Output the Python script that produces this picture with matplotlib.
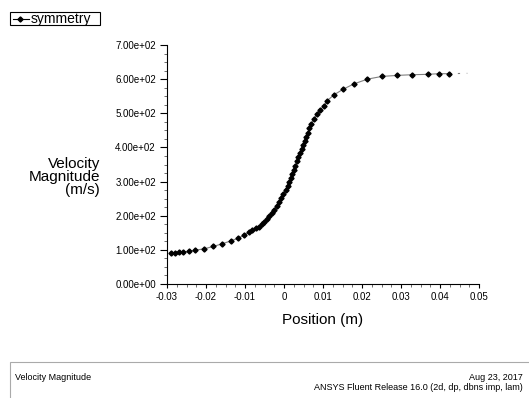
import matplotlib
matplotlib.use("Agg")
import matplotlib.pyplot as plt
from matplotlib.ticker import MultipleLocator, FormatStrFormatter
from matplotlib.patches import Rectangle

position = [-0.0291, -0.0279, -0.0269, -0.0258, -0.0244, -0.0227, -0.0205, -0.0181,
            -0.0158, -0.0137, -0.0118, -0.0103, -0.0090, -0.0081, -0.0073, -0.0064,
            -0.0057, -0.0051, -0.0044, -0.0038, -0.0032, -0.0026, -0.0019, -0.0013,
            -0.0007, -0.0002, 0.0004, 0.0009, 0.0013, 0.0017, 0.0021, 0.0025,
            0.0029, 0.0033, 0.0037, 0.0041, 0.0045, 0.0049, 0.0053, 0.0057,
            0.0061, 0.0065, 0.0070, 0.0077, 0.0084, 0.00923, 0.01026, 0.0111, 0.0128,
            0.0151, 0.0179, 0.0214, 0.0251, 0.0291, 0.0329, 0.0368, 0.0397, 0.0423]
velocity = [92, 92, 93, 94, 96, 99, 103, 110,
            118, 126, 134, 143, 151, 158, 163, 168,
            175, 182, 190, 198, 208, 217, 229, 241,
            251, 264, 276, 288, 298, 310, 322, 334,
            346, 359, 371, 383, 395, 407, 420, 432,
            443, 456, 469, 483, 498, 510, 521, 537, 554,
            570, 586, 600, 608, 611, 613, 614, 616, 616]
tail_position = [0.0423, 0.0470]
tail_velocity = [616, 617]

x_ticks = [-0.03, -0.02, -0.01, 0, 0.01, 0.02, 0.03, 0.04, 0.05]
x_labels = ["-0.03", "-0.02", "-0.01", "0", "0.01", "0.02", "0.03", "0.04", "0.05"]

plt.rcParams['font.family'] = ['Liberation Sans', 'DejaVu Sans']

fig = plt.figure(figsize=(5.29, 3.98), dpi=100)
ax = fig.add_axes([167/529, 1-284/398, (479-167)/529, (284-45)/398])

ax.plot(position, velocity, color='#808080', lw=0.8, marker='D', markersize=2.6,
        markerfacecolor='black', markeredgecolor='black', zorder=3)
ax.plot(tail_position, tail_velocity, color='#808080', lw=0.8, ls=(0, (2, 6)))

ax.set_xlim(-0.03, 0.05)
ax.set_ylim(0, 700)
ax.set_xticks(x_ticks)
ax.set_xticklabels(x_labels)
ax.xaxis.set_minor_locator(MultipleLocator(0.0025))
ax.yaxis.set_major_locator(MultipleLocator(100))
ax.yaxis.set_minor_locator(MultipleLocator(25))
ax.yaxis.set_major_formatter(FormatStrFormatter('%.2e'))
ax.tick_params(axis='both', which='major', labelsize=7, length=5, width=0.8, color='black', pad=3)
ax.tick_params(axis='x', which='major', length=3)
ax.tick_params(axis='both', which='minor', length=2.5, width=0.6, color='#555555')
for s in ['top', 'right']:
    ax.spines[s].set_visible(False)
for s in ['left', 'bottom']:
    ax.spines[s].set_linewidth(0.8)

ax.set_xlabel("Position (m)", fontsize=11, labelpad=8)
fig.text(100/529, 1-177/398, "Velocity\nMagnitude\n(m/s)", fontsize=11,
         ha='right', va='center', multialignment='right', linespacing=0.95)

# legend box
fig.add_artist(Rectangle((10/529, 1-25/398), 90/529, 13/398, transform=fig.transFigure,
                         fill=False, edgecolor='black', lw=0.8))
fig.add_artist(plt.Line2D([13/529, 29/529], [1-18.5/398, 1-18.5/398], transform=fig.transFigure,
                          color='black', lw=0.8))
fig.add_artist(plt.Line2D([20/529], [1-18.5/398], transform=fig.transFigure,
                          color='black', marker='D', markersize=2.6, lw=0))
fig.text(31/529, 1-19/398, "symmetry", fontsize=10, ha='left', va='center')

# footer box
fig.add_artist(Rectangle((10/529, -0.01), 530/529, (398-362)/398 + 0.01, transform=fig.transFigure,
                         fill=False, edgecolor='#aaaaaa', lw=0.8))
fig.text(15/529, 1-377/398, "Velocity Magnitude", fontsize=6.5, ha='left', va='center')
fig.text(523/529, 1-377/398, "Aug 23, 2017", fontsize=6.5, ha='right', va='center')
fig.text(523/529, 1-388/398, "ANSYS Fluent Release 16.0 (2d, dp, dbns imp, lam)", fontsize=6.5,
         ha='right', va='center')

fig.savefig("out.png", dpi=100)
